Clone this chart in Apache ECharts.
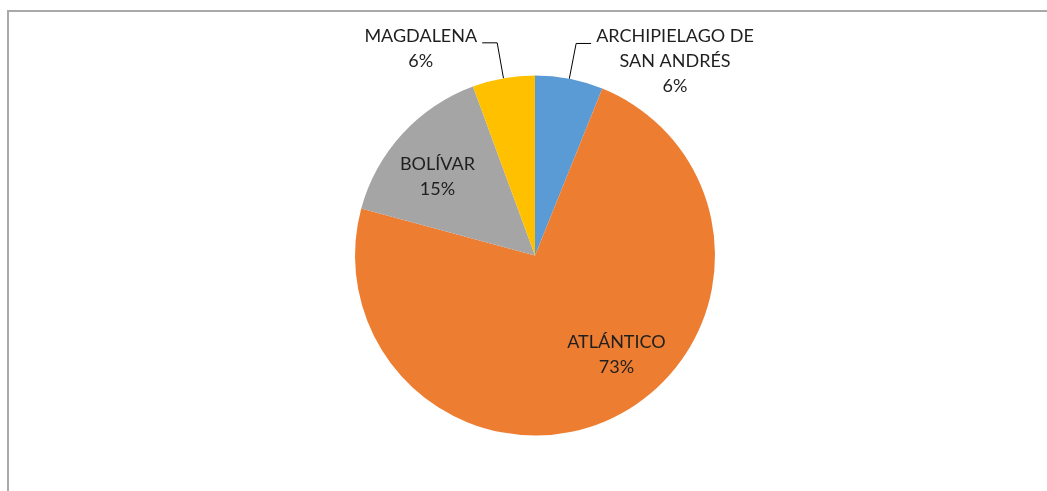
<!DOCTYPE html>
<html>
<head>
<meta charset="utf-8">
<script src="https://cdn.jsdelivr.net/npm/echarts@6/dist/echarts.min.js"></script>
<style>
  html, body { margin: 0; padding: 0; background: #fff; overflow: hidden; }
  #chart { position: absolute; left: 0; top: 0; width: 1047px; height: 491px; }
  #frame {
    position: absolute; left: 7px; top: 10px; right: -10px; bottom: -10px;
    border-left: 2px solid #a9a9a9; border-top: 2px solid #a9a9a9;
    pointer-events: none;
  }
</style>
</head>
<body>
<div id="chart"></div>
<div id="frame"></div>
<script>
// departments and their share
var categories = ['ARCHIPIELAGO DE\nSAN ANDRÉS', 'ATLÁNTICO', 'BOLÍVAR', 'MAGDALENA'];
var values = [6.1, 73.1, 15.2, 5.6];
var colors = ['#5B9BD5', '#ED7D31', '#A5A5A5', '#FFC000'];

var myChart = echarts.init(document.getElementById('chart'));

var LINE_H = 25;
// nudges for the labels drawn inside the big slices
var insideNudge = { 'ATLÁNTICO': [40, 16], 'BOLÍVAR': [-29, -16] };

var pieData = categories.map(function (name, i) {
  var outside = values[i] < 10;
  var nLines = name.split('\n').length + 1;
  return {
    name: name,
    value: values[i],
    itemStyle: { color: colors[i] },
    label: {
      position: outside ? 'outside' : 'inside',
      padding: outside ? [LINE_H * nLines - 39, 0, 0, 0] : 0
    }
  };
});

var option = {
  animation: false,
  series: [
    {
      type: 'pie',
      center: [535, 255.5],
      radius: 180,
      startAngle: 90,
      clockwise: true,
      avoidLabelOverlap: false,
      percentPrecision: 0,
      itemStyle: { borderWidth: 0 },
      emphasis: { disabled: true },
      label: {
        formatter: function (p) {
          var lines = p.name.split('\n').map(function (s) { return '{c|' + s + '}'; });
          lines.push('{c|' + Math.round(p.percent) + '%}');
          return lines.join('\n');
        },
        rich: {
          c: {
            fontFamily: 'Lato',
            fontSize: 18,
            lineHeight: LINE_H,
            color: '#1f1f1f',
            align: 'center'
          }
        },
        distanceToLabelLine: 5
      },
      labelLine: {
        show: true,
        length: 36,
        length2: 15,
        lineStyle: { color: '#000', width: 1 }
      },
      labelLayout: function (params) {
        var n = insideNudge[categories[params.dataIndex]];
        if (n) return { dx: n[0], dy: n[1] };
        return {};
      },
      data: pieData
    }
  ]
};

myChart.setOption(option);
</script>
</body>
</html>
